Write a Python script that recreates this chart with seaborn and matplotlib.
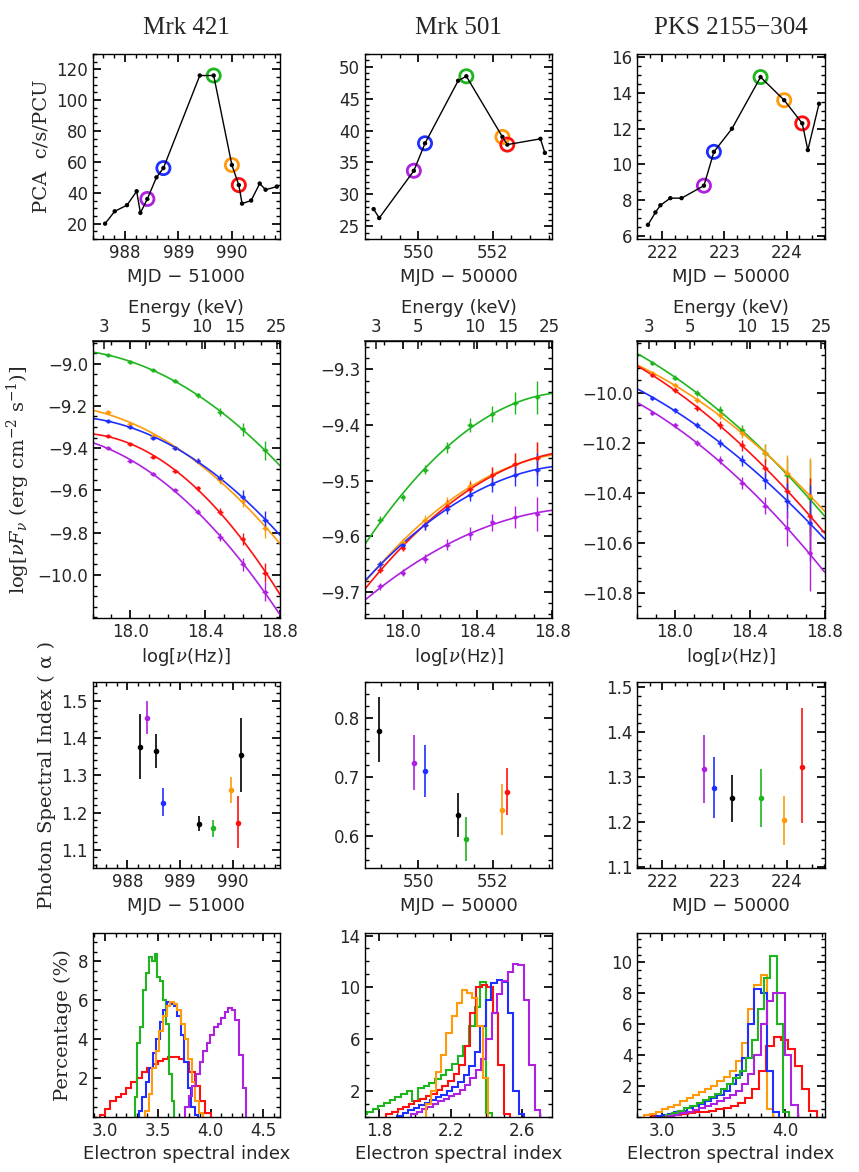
import numpy as np
import pandas as pd
import matplotlib
matplotlib.use("Agg")
import matplotlib.pyplot as plt
import seaborn as sns

COLORS = {"green": "#1fb51f", "blue": "#1f2fff", "orange": "#ff9a0a",
          "red": "#ff1010", "purple": "#b020e0", "black": "black"}
SOURCES = ["Mrk 421", "Mrk 501", "PKS 2155\u2212304"]
MJD_LABELS = ["MJD \u2212 51000", "MJD \u2212 50000", "MJD \u2212 50000"]

# ---- row 1: light curves (MJD, rate); circled points by colour ----
lc_421_t = [987.63, 987.81, 988.04, 988.22, 988.29, 988.42, 988.59, 988.72, 989.40,
            989.66, 990.00, 990.13, 990.19, 990.36, 990.52, 990.63, 990.84]
lc_421_r = [20, 28, 32, 41, 27, 36, 50, 56, 116, 116, 58, 45, 33, 35, 46, 42, 44]
lc_421_mark = {5: "purple", 7: "blue", 9: "green", 10: "orange", 11: "red"}
lc_501_t = [548.80, 548.95, 549.88, 550.18, 551.07, 551.29, 552.26, 552.39, 553.28, 553.40]
lc_501_r = [27.7, 26.3, 33.7, 38.0, 47.8, 48.5, 39.0, 37.8, 38.7, 36.5]
lc_501_mark = {2: "purple", 3: "blue", 5: "green", 6: "orange", 7: "red"}
lc_pks_t = [221.77, 221.89, 221.97, 222.13, 222.31, 222.67, 222.83, 223.12, 223.58,
            223.96, 224.25, 224.34, 224.52]
lc_pks_r = [6.6, 7.3, 7.7, 8.1, 8.1, 8.8, 10.7, 12.0, 14.9, 13.6, 12.3, 10.8, 13.4]
lc_pks_mark = {5: "purple", 6: "blue", 8: "green", 9: "orange", 10: "red"}

# ---- row 2: spectra at knots in log(nu) ----
spec_x = [17.88, 18.00, 18.12, 18.24, 18.36, 18.48, 18.60, 18.72]
spec_421 = {
    "green": [-8.96, -8.99, -9.03, -9.08, -9.15, -9.23, -9.31, -9.41],
    "orange": [-9.23, -9.285, -9.34, -9.40, -9.46, -9.55, -9.65, -9.78],
    "blue": [-9.27, -9.30, -9.35, -9.40, -9.46, -9.54, -9.63, -9.74],
    "red": [-9.34, -9.38, -9.44, -9.51, -9.59, -9.70, -9.83, -9.99],
    "purple": [-9.40, -9.46, -9.52, -9.60, -9.70, -9.82, -9.95, -10.08],
}
err_421 = [0.004, 0.005, 0.006, 0.008, 0.012, 0.018, 0.03, 0.045]
spec_501 = {
    "green": [-9.57, -9.53, -9.48, -9.44, -9.40, -9.38, -9.36, -9.35],
    "orange": [-9.65, -9.61, -9.57, -9.54, -9.51, -9.49, -9.47, -9.46],
    "red": [-9.66, -9.62, -9.58, -9.545, -9.515, -9.49, -9.47, -9.46],
    "blue": [-9.65, -9.615, -9.58, -9.55, -9.525, -9.505, -9.49, -9.48],
    "purple": [-9.69, -9.665, -9.64, -9.615, -9.595, -9.575, -9.565, -9.56],
}
err_501 = [0.006, 0.007, 0.008, 0.01, 0.012, 0.015, 0.02, 0.03]
spec_pks = {
    "green": [-9.88, -9.94, -10.00, -10.07, -10.15, -10.24, -10.33, -10.42],
    "orange": [-9.92, -9.97, -10.03, -10.09, -10.16, -10.24, -10.32, -10.41],
    "red": [-9.93, -9.99, -10.06, -10.13, -10.21, -10.30, -10.39, -10.49],
    "blue": [-10.02, -10.07, -10.13, -10.20, -10.27, -10.35, -10.43, -10.52],
    "purple": [-10.08, -10.13, -10.20, -10.27, -10.36, -10.45, -10.54, -10.64],
}
err_pks = [0.008, 0.01, 0.012, 0.016, 0.022, 0.035, 0.07, 0.15]
ENERGY_TICKS = [3, 5, 10, 15, 25]

# ---- row 3: photon index (MJD, alpha, lo, hi, colour) ----
alpha_421 = [(988.23, 1.375, 1.29, 1.465, "black"), (988.37, 1.455, 1.41, 1.50, "purple"),
             (988.54, 1.365, 1.32, 1.41, "black"), (988.67, 1.225, 1.19, 1.265, "blue"),
             (989.36, 1.170, 1.15, 1.19, "black"), (989.63, 1.158, 1.135, 1.18, "green"),
             (989.97, 1.260, 1.225, 1.295, "orange"), (990.10, 1.173, 1.105, 1.245, "red"),
             (990.16, 1.355, 1.255, 1.455, "black")]
alpha_501 = [(548.95, 0.778, 0.725, 0.835, "black"), (549.88, 0.723, 0.678, 0.77, "purple"),
             (550.18, 0.710, 0.665, 0.753, "blue"), (551.07, 0.636, 0.598, 0.673, "black"),
             (551.29, 0.595, 0.558, 0.632, "green"), (552.26, 0.644, 0.602, 0.687, "orange"),
             (552.39, 0.675, 0.635, 0.715, "red")]
alpha_pks = [(222.67, 1.318, 1.243, 1.393, "purple"), (222.83, 1.275, 1.208, 1.343, "blue"),
             (223.12, 1.253, 1.20, 1.305, "black"), (223.58, 1.253, 1.188, 1.318, "green"),
             (223.96, 1.205, 1.15, 1.258, "orange"), (224.25, 1.322, 1.198, 1.452, "red")]

# ---- row 4: electron index histograms (first edge, bin width, percentages) ----
hist_421 = {
    "red": (2.95, 0.05, [0.1, 0.4, 0.8, 1.0, 1.2, 1.5, 1.8, 2.0, 2.3, 2.5, 2.7, 2.9, 3.0,
                         3.1, 3.1, 3.0, 2.8, 2.3, 1.6, 0.8, 0.2]),
    "green": (3.28, 0.027, [1.0, 3.8, 4.6, 6.5, 7.4, 8.2, 8.0, 8.4, 7.2, 7.0, 6.0, 4.8,
                            2.2, 0.8]),
    "blue": (3.32, 0.033, [0.3, 1.0, 1.8, 2.5, 3.3, 4.0, 4.9, 5.5, 5.9, 5.8, 5.7, 5.2,
                           4.2, 2.8, 1.5, 0.5, 0.1]),
    "orange": (3.38, 0.034, [0.3, 1.2, 2.5, 3.4, 4.4, 5.2, 5.7, 5.9, 5.8, 5.5, 4.8, 4.0,
                             3.0, 1.8, 0.8, 0.2]),
    "purple": (3.76, 0.034, [0.5, 1.1, 1.6, 2.2, 2.8, 3.4, 3.8, 4.2, 4.6, 4.8, 5.1, 5.4,
                             5.6, 5.5, 5.0, 3.2, 1.5]),
}
hist_501 = {
    "green": (1.70, 0.0317, [0.2, 0.4, 0.6, 0.85, 1.05, 1.3, 1.5, 1.75, 2.0, 1.2, 2.2, 2.4,
                             2.6, 2.9, 3.2, 3.6, 4.1, 4.7, 5.5, 7.0, 8.5, 10.4, 0.3]),
    "red": (1.84, 0.0314, [0.2, 0.4, 0.6, 0.8, 1.0, 1.2, 1.4, 1.6, 1.8, 2.1, 2.4, 2.8, 3.3,
                           4.0, 5.5, 8.0, 10.0, 10.2, 10.0, 8.0, 4.0, 0.2]),
    "blue": (1.90, 0.031, [0.1, 0.3, 0.5, 0.7, 0.9, 1.1, 1.3, 1.5, 1.7, 2.0, 2.3, 2.7, 3.2,
                           3.9, 5.0, 7.0, 9.0, 10.3, 10.6, 10.4, 8.0, 2.0, 0.2]),
    "purple": (1.98, 0.03, [0.2, 0.4, 0.6, 0.8, 1.0, 1.2, 1.4, 1.6, 1.8, 2.1, 2.5, 3.0,
                            3.6, 4.5, 6.0, 8.0, 9.5, 10.5, 11.2, 11.8, 11.7, 9.0, 4.0, 0.5]),
    "orange": (2.06, 0.029, [1.0, 2.0, 3.5, 4.8, 6.5, 7.8, 8.8, 9.8, 9.6, 9.2, 7.0, 3.0]),
}
hist_pks = {
    "red": (2.92, 0.058, [0.05, 0.08, 0.1, 0.15, 0.2, 0.25, 0.3, 0.35, 0.4, 0.5, 0.6, 0.7,
                          0.9, 1.2, 1.8, 3.0, 4.6, 5.2, 5.0, 4.4, 3.3, 1.8, 0.4]),
    "orange": (2.85, 0.05, [0.1, 0.2, 0.35, 0.5, 0.65, 0.8, 1.0, 1.2, 1.4, 1.6, 1.8, 2.0,
                            2.3, 2.6, 3.0, 3.6, 4.8, 7.0, 8.5, 9.2, 0.5]),
    "blue": (2.95, 0.05, [0.05, 0.1, 0.2, 0.3, 0.4, 0.55, 0.7, 0.85, 1.0, 1.2, 1.4, 1.7,
                          2.1, 2.7, 3.8, 6.0, 8.3, 8.0, 3.0, 0.3]),
    "green": (3.03, 0.05, [0.1, 0.25, 0.4, 0.55, 0.7, 0.9, 1.1, 1.3, 1.5, 1.8, 2.1, 2.5,
                           3.0, 3.8, 5.0, 7.0, 9.0, 10.4, 6.0, 0.3]),
    "purple": (3.05, 0.05, [0.05, 0.15, 0.25, 0.35, 0.45, 0.55, 0.7, 0.85, 1.0, 1.2, 1.4,
                            1.7, 2.1, 2.8, 4.0, 6.0, 7.5, 8.0, 8.0, 4.0, 0.8]),
}

sns.set_theme(style="ticks")
plt.rcParams["font.family"] = ["DejaVu Sans"]
plt.rcParams["mathtext.fontset"] = "dejavuserif"
plt.rcParams["xtick.direction"] = "in"
plt.rcParams["ytick.direction"] = "in"

fig = plt.figure(figsize=(8.59, 11.72), dpi=100)
lefts = [0.108, 0.425, 0.742]
W = 0.218
rows = [(0.796, 0.158), (0.473, 0.236), (0.259, 0.159), (0.047, 0.157)]
axes = [[fig.add_axes([l, b, W, h]) for l in lefts] for (b, h) in rows]

for row in axes:
    for ax in row:
        ax.tick_params(which="both", top=True, right=True, labelsize=12, color="black")
        ax.tick_params(which="major", length=6)
        ax.tick_params(which="minor", length=3)
        ax.minorticks_on()
        for s in ax.spines.values():
            s.set_color("black")
            s.set_linewidth(1.0)

# titles
for ax, name in zip(axes[0], SOURCES):
    ax.set_title(name, fontsize=18, family="Liberation Serif", pad=14)

# row 1
lcs = [(lc_421_t, lc_421_r, lc_421_mark, (987.4, 990.9), (10, 130), [988, 989, 990],
        [20, 40, 60, 80, 100, 120]),
       (lc_501_t, lc_501_r, lc_501_mark, (548.57, 553.6), (23, 52), [550, 552],
        [25, 30, 35, 40, 45, 50]),
       (lc_pks_t, lc_pks_r, lc_pks_mark, (221.6, 224.61), (5.8, 16.2), [222, 223, 224],
        [6, 8, 10, 12, 14, 16])]
for ax, (t, r, marks, xl, yl, xt, yt), lab in zip(axes[0], lcs, MJD_LABELS):
    df = pd.DataFrame({"t": t, "r": r})
    sns.lineplot(data=df, x="t", y="r", ax=ax, color="black", lw=1, sort=False)
    sns.scatterplot(data=df, x="t", y="r", ax=ax, color="black", s=10, edgecolor="none")
    for i, c in marks.items():
        ax.scatter(t[i], r[i], s=90, facecolors="none", edgecolors=COLORS[c], linewidths=2)
    ax.set_xlim(xl)
    ax.set_ylim(yl)
    ax.set_xticks(xt)
    ax.set_yticks(yt)
    ax.set_xlabel(lab, fontsize=13)
    ax.set_ylabel("")
axes[0][0].set_ylabel("PCA  c/s/PCU", fontsize=14, family="DejaVu Serif")

# row 2
specs = [(spec_421, err_421, (-10.202, -8.893), [-10.0, -9.8, -9.6, -9.4, -9.2, -9.0]),
         (spec_501, err_501, (-9.746, -9.249), [-9.7, -9.6, -9.5, -9.4, -9.3]),
         (spec_pks, err_pks, (-10.897, -9.794), [-10.8, -10.6, -10.4, -10.2, -10.0])]
xs = np.array(spec_x)
xfine = np.linspace(17.8, 18.8, 100)
for ax, (spec, err, yl, yt) in zip(axes[1], specs):
    for c, vals in spec.items():
        coef = np.polyfit(xs, vals, 2)
        sns.lineplot(x=xfine, y=np.polyval(coef, xfine), ax=ax, color=COLORS[c], lw=1.2)
        ax.errorbar(xs, vals, yerr=err, xerr=0.015, fmt="o", ms=2, color=COLORS[c], lw=1)
    ax.set_xlim(17.8, 18.8)
    ax.set_ylim(yl)
    ax.set_yticks(yt)
    ax.set_xticks([18.0, 18.4, 18.8])
    ax.set_xlabel(r"log[$\nu$(Hz)]", fontsize=13)
    sec = ax.secondary_xaxis("top", functions=(lambda x: 10 ** x / 2.418e17,
                                               lambda e: np.log10(np.maximum(e, 1e-3) * 2.418e17)))
    sec.set_xticks(ENERGY_TICKS)
    sec.set_xticklabels([str(e) for e in ENERGY_TICKS])
    sec.tick_params(labelsize=12, direction="in", length=6)
    sec.set_xlabel("Energy (keV)", fontsize=13)
axes[1][0].set_ylabel(r"log[$\nu F_\nu$ (erg cm$^{-2}$ s$^{-1}$)]", fontsize=14,
                      family="DejaVu Serif")

# row 3
alphas = [(alpha_421, (987.34, 990.9), (1.05, 1.55), [988, 989, 990], [1.1, 1.2, 1.3, 1.4, 1.5]),
          (alpha_501, (548.57, 553.6), (0.545, 0.86), [550, 552], [0.6, 0.7, 0.8]),
          (alpha_pks, (221.6, 224.61), (1.097, 1.51), [222, 223, 224], [1.1, 1.2, 1.3, 1.4, 1.5])]
for ax, (pts, xl, yl, xt, yt), lab in zip(axes[2], alphas, MJD_LABELS):
    for t, a, lo, hi, c in pts:
        ax.errorbar([t], [a], yerr=[[a - lo], [hi - a]], fmt="o", ms=3,
                    color=COLORS[c], lw=1.2)
    ax.set_xlim(xl)
    ax.set_ylim(yl)
    ax.set_xticks(xt)
    ax.set_yticks(yt)
    ax.set_xlabel(lab, fontsize=13)
axes[2][0].set_ylabel("Photon Spectral Index ( \u03b1 )", fontsize=14, family="DejaVu Serif")

# row 4
hists = [(hist_421, (2.884, 4.658), (0, 9.46), [3.0, 3.5, 4.0, 4.5], [2, 4, 6, 8]),
         (hist_501, (1.72, 2.77), (0, 14.2), [1.8, 2.2, 2.6], [2, 6, 10, 14]),
         (hist_pks, (2.80, 4.32), (0, 11.9), [3.0, 3.5, 4.0], [2, 4, 6, 8, 10])]
for ax, (hs, xl, yl, xt, yt) in zip(axes[3], hists):
    for c, (x0, w, vals) in hs.items():
        edges = x0 + w * np.arange(len(vals) + 1)
        ax.stairs(vals, edges, color=COLORS[c], lw=1.5, baseline=0)
    ax.set_xlim(xl)
    ax.set_ylim(yl)
    ax.set_xticks(xt)
    ax.set_yticks(yt)
    ax.set_xlabel("Electron spectral index", fontsize=13)
axes[3][0].set_ylabel("Percentage (%)", fontsize=14, family="DejaVu Serif")

fig.savefig("out.png", dpi=100)
